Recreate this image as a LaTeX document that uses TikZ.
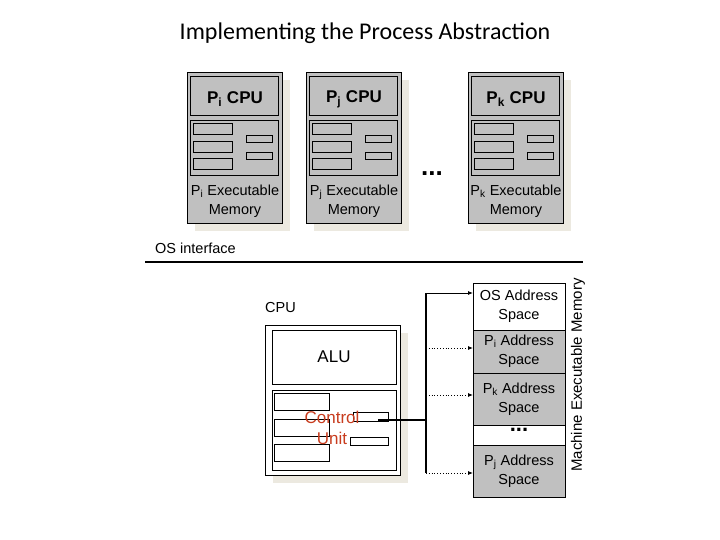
\documentclass[tikz,border=0pt]{standalone}
\usepackage{fontspec}
\setmainfont{Liberation Sans}
\newfontfamily\titlefont{Carlito}
\usetikzlibrary{arrows.meta}
\definecolor{boxgray}{RGB}{192,192,192}
\definecolor{shadowc}{RGB}{236,233,224}
\definecolor{ctrlred}{RGB}{200,60,30}
\begin{document}
\begin{tikzpicture}[x=1pt,y=-1pt,
  panel/.style={draw,fill=boxgray,line width=0.6pt},
  plain/.style={draw,fill=white,line width=0.6pt},
  reg/.style={draw,line width=0.6pt},
  lbl/.style={font=\fontsize{14.5}{19}\selectfont,align=center,inner sep=0pt},
  bus/.style={line width=1.2pt},
  link/.style={-{Latex[length=5pt,width=4pt]},line width=0.8pt},
  dotlink/.style={link,dotted}]
\useasboundingbox (0,0) rectangle (720,540);
\node[font=\titlefont\fontsize{24}{28}\selectfont] (title) at (365,33) {Implementing the Process Abstraction};
% process panels
\foreach \x/\p in {187/i,306/j,468/k}{
  \fill[shadowc] (\x+8,80) rectangle (\x+103,231);
  \draw[panel] (\x,72) rectangle (\x+95,223);
  \draw[panel] (\x+3,76) rectangle (\x+91,115);
  \draw[panel] (\x+3,120) rectangle (\x+91,175);
  \foreach \y in {123,141,158} \draw[reg] (\x+6,\y) rectangle (\x+45,\y+11);
  \foreach \y in {135,152} \draw[reg] (\x+59,\y) rectangle (\x+85,\y+7);
  \node[lbl,font=\bfseries\fontsize{17}{20}\selectfont] (cpu\p) at (\x+48,99) {P\textsubscript{\p} CPU};
  \node[lbl] (exe\p) at (\x+48,201) {P\textsubscript{\p} Executable\\Memory};
}
\node[font=\bfseries\fontsize{26}{26}\selectfont] (pdots) at (432,174) {...};
% OS interface
\node[lbl,anchor=west] (osif) at (155,248) {OS interface};
\draw[line width=2.5pt] (145,262) -- (583,262);
% CPU
\node[lbl,anchor=west] (cpulbl) at (265,308) {CPU};
\fill[shadowc] (273,333) rectangle (408,483);
\draw[plain] (265,325) rectangle (400,475);
\draw[plain] (272,330) rectangle (396,384);
\node[lbl,font=\fontsize{17}{20}\selectfont] (alu) at (334,357) {ALU};
\draw[plain] (272,390) rectangle (396,470);
\foreach \y in {393,419,444} \draw[reg] (274,\y) rectangle (329,\y+17);
\draw[reg] (353,412) rectangle (388,421);
\draw[reg] (350,437) rectangle (388,445);
\node[lbl,text=ctrlred,font=\fontsize{17}{21}\selectfont] (ctrl) at (332,428) {Control\\Unit};
\coordinate (cu) at (378,420);
% memory
\draw[plain] (473,283) rectangle (565,330);
\draw[panel] (473,330) rectangle (565,373);
\draw[panel] (473,373) rectangle (565,425);
\draw[plain] (473,425) rectangle (565,445);
\draw[panel] (473,445) rectangle (565,497);
\node[lbl] (mos) at (519,306) {OS Address\\Space};
\node[lbl] (mi) at (519,351) {P\textsubscript{i} Address\\Space};
\node[lbl] (mk) at (519,399) {P\textsubscript{k} Address\\Space};
\node[font=\bfseries\fontsize{22}{22}\selectfont] (mdots) at (519,430) {...};
\node[lbl,rotate=90,font=\fontsize{15}{18}\selectfont] (mach) at (578,375) {Machine Executable Memory};
\node[lbl] (mj) at (519,471) {P\textsubscript{j} Address\\Space};
% bus
\coordinate (btop) at (426,293);
\coordinate (bi) at (426,348);
\coordinate (bk) at (426,395);
\coordinate (bj) at (426,473);
\coordinate (bc) at (426,420);
\draw[bus] (cu) -- (bc);
\draw[bus] (btop) -- (bj);
\draw[link] (btop) -- (473,293);
\draw[dotlink] (bi) -- (473,348);
\draw[dotlink] (bk) -- (473,395);
\draw[dotlink] (bj) -- (473,473);
\end{tikzpicture}
\end{document}
